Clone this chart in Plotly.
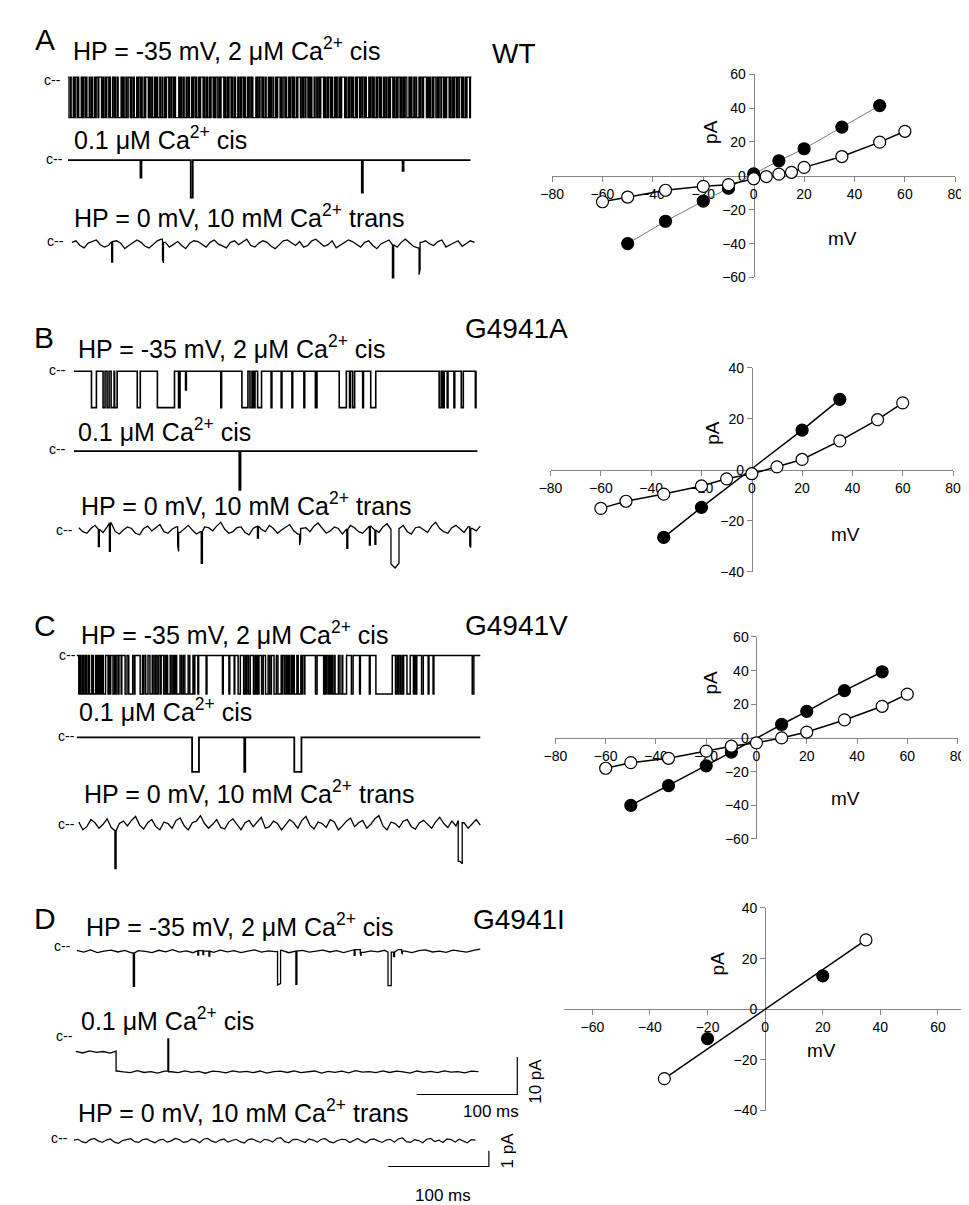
import plotly.graph_objects as go

W, H = 969, 1205
FONT = "Arial, Liberation Sans, sans-serif"

# ---------------- I-V data (mV, pA) ----------------
wt_filled_mv = [-50, -35, -20, -10, 0, 10, 20, 35, 50]
wt_filled_pa = [-40.0, -26.8, -14.9, -7.3, 1.2, 8.9, 16.0, 28.8, 41.5]
wt_open_mv = [-60, -50, -35, -20, -10, 0, 5, 10, 15, 20, 35, 50, 60]
wt_open_pa = [-15.3, -12.5, -8.5, -6.2, -5.2, -1.7, -0.4, 1.0, 2.1, 5.0, 11.4, 19.9, 26.3]

ga_filled_mv = [-35, -20, 20, 35]
ga_filled_pa = [-26.5, -14.7, 15.6, 27.7]
ga_open_mv = [-60, -50, -35, -20, -10, 0, 10, 20, 35, 50, 60]
ga_open_pa = [-15.1, -12.3, -9.5, -6.3, -3.5, -1.5, 1.2, 4.1, 11.4, 19.7, 26.3]

gv_filled_mv = [-50, -35, -20, -10, 10, 20, 35, 50]
gv_filled_pa = [-40.1, -28.3, -16.6, -8.4, 8.0, 15.8, 28.1, 39.3]
gv_open_mv = [-60, -50, -35, -20, -10, 0, 10, 20, 35, 50, 60]
gv_open_pa = [-18.0, -14.7, -12.1, -7.8, -4.9, -2.9, 0.0, 3.5, 10.7, 18.8, 26.0]

gi_filled_mv = [-20, 20]
gi_filled_pa = [-11.6, 13.2]
gi_open_mv = [-35, 35]
gi_open_pa = [-27.4, 27.4]
gi_fit_mv = [-35, 35]
gi_fit_pa = [-27.4, 27.4]

ticks_80 = [-80, -60, -40, -20, 0, 20, 40, 60, 80]
ticks_60 = [-60, -40, -20, 0, 20, 40, 60]
ticks_40 = [-40, -20, 0, 20, 40]

# ---------------- single-channel records (ms, pA) ----------------
T_MS = 400
A1_amp = -10.8
# alternating dwell times (ms): closed, open, closed, open ...
A1_dwell = [
    1.0, 1.5, 0.7, 2.0, 1.2, 0.8, 1.8, 1.1, 0.6, 2.4, 1.3, 0.9, 1.6, 0.7, 1.2, 2.2, 0.8, 1.4, 1.0, 1.9,
    0.6, 1.3, 1.7, 0.9, 2.6, 1.1, 0.8, 1.5, 1.2, 0.7, 1.9, 1.0, 0.6, 2.1, 1.4, 0.9, 1.1, 1.6, 0.7, 2.8,
    1.3, 0.8, 1.0, 1.7, 0.9, 1.4, 2.0, 0.6, 1.2, 1.5, 0.8, 2.3, 1.0, 0.7, 1.6, 1.3, 0.9, 1.8, 0.6, 1.1,
    2.5, 1.2, 0.8, 1.4, 1.0, 1.9, 0.7, 1.3, 1.1, 2.0, 0.9, 1.5, 0.6, 1.7, 1.2, 0.8, 2.2, 1.0, 1.4, 0.7,
    1.6, 1.1, 0.9, 3.2, 1.3, 0.8, 1.2, 1.5, 0.6, 1.9, 1.0, 1.4, 0.8, 2.1, 1.2, 0.7, 1.6, 1.0, 0.9, 1.8,
    1.3, 0.6, 2.4, 1.1, 0.8, 1.5, 1.2, 1.7, 0.7, 1.0, 2.0, 0.9, 1.3, 0.6, 1.8, 1.4, 0.8, 1.1, 2.6, 1.0,
    0.7, 1.5, 1.2, 0.9, 1.9, 1.3, 0.6, 1.6, 1.0, 2.2, 0.8, 1.4, 1.1, 0.7, 1.7, 1.2, 0.9, 2.0, 1.0, 0.6,
    1.5, 1.3, 0.8, 2.9, 1.1, 0.7, 1.4, 1.0, 1.8, 0.9, 1.2, 1.6, 0.6, 2.1, 1.3, 0.8, 1.0, 1.5, 0.7, 1.9,
    1.2, 0.9, 2.3, 1.1, 0.6, 1.4, 1.7, 0.8, 1.0, 2.0, 1.3, 0.7, 1.6, 1.2, 0.9, 1.8, 1.0, 0.6, 2.5, 1.4,
    0.8, 1.1, 1.5, 0.7, 1.9, 1.2, 0.9, 1.3, 0.6, 2.2, 1.0, 1.6, 0.8, 1.4, 1.1, 0.7, 2.7, 1.2, 0.9, 1.5,
    1.0, 0.6, 1.8, 1.3, 0.8, 2.0, 1.1, 0.7, 1.4, 1.6, 0.9, 1.2, 3.0, 1.0, 0.6, 1.7, 1.3, 0.8, 1.5, 1.1,
    0.7, 1.9, 1.2, 0.9, 2.1, 1.0, 1.4, 0.6, 1.6, 1.3, 0.8, 2.4, 1.1, 0.7, 1.5, 1.2, 0.9, 1.8, 1.0, 0.6,
    1.7, 1.3, 0.8, 2.0, 1.1, 1.4, 0.7, 1.6, 0.9, 1.2, 2.3, 1.0, 0.6, 1.5, 1.3, 0.8, 1.9, 1.1, 0.7, 1.4,
    1.2, 0.8, 1.6, 2.1, 0.7, 1.3, 1.0, 1.8, 0.9, 1.4, 0.6, 2.2, 1.1, 0.8, 1.5, 1.2, 2.8, 0.7, 1.3, 1.0,
    0.9, 1.7, 1.2, 0.6, 2.0, 1.4, 0.8, 1.1, 1.6, 0.7, 1.9, 1.0, 1.3, 0.9, 2.4, 1.1, 0.6, 1.5, 1.2, 0.8,
    1.8, 1.0, 0.7, 1.4, 2.1, 0.9, 1.2, 1.6, 0.6, 1.3, 2.6, 0.8, 1.1, 1.5, 0.7, 1.9, 1.2, 0.9, 1.4, 1.0]
A2_events = [(72, 73, -4.7), (122, 124, -10.0), (292, 293, -8.7), (332.5, 333.5, -2.9)]
A3_events = [(39.5, 40.5, -1.3), (90, 91, -1.3), (318.5, 319.8, -2.1), (345, 346, -1.7)]
A3_noise = [
    0.1, 0.2, -0.1, -0.25, 0.05, 0.15, 0.25, -0.05, -0.2, -0.1, 0.15, 0.2, 0.05, -0.3, -0.1, 0.1, 0.25, 0.1, -0.15, -0.25,
    0.0, 0.2, 0.3, 0.1, -0.2, -0.05, 0.15, -0.1, -0.3, 0.05, 0.2, 0.15, -0.05, -0.2, 0.1, 0.25, 0.0, -0.15, -0.25, 0.1,
    0.2, -0.05, 0.15, 0.3, -0.1, -0.2, 0.05, 0.2, 0.1, -0.15, -0.3, -0.05, 0.2, 0.25, 0.05, -0.1, 0.15, -0.2, -0.1, 0.2,
    0.3, 0.1, -0.15, -0.05, 0.2, -0.25, -0.1, 0.1, 0.25, 0.15, -0.05, -0.2, 0.1, 0.2, -0.1, -0.3, 0.0, 0.15, 0.25, -0.05,
    -0.2, 0.1, 0.3, 0.05, -0.15, -0.25, 0.1, 0.2, 0.0, -0.1, 0.15, 0.25, -0.2, -0.05, 0.1, 0.2, -0.15, 0.05, 0.2, 0.1]

B1_amp = -9.7
B1_open = [(17.5, 22.4), (29, 31), (33, 35), (37, 40), (40.5, 43), (63, 66), (83, 100), (104, 105.5),
           (111, 111.8, -5.0), (146, 146.8), (167, 173), (175, 177), (178.5, 180), (182.6, 186.5), (196, 196.8),
           (206, 206.8), (216.7, 217.5), (228.6, 229.4), (240, 241.6), (263.7, 270.8), (274, 274.8), (277, 279),
           (287, 287.8), (295, 300), (363, 365), (366.5, 368), (371, 371.8), (377.7, 378.5), (385, 387),
           (399, 399.6)]
B2_events = [(164, 165.2, -10.3)]
B3_events = [(19.5, 20.5, -1.1), (30.5, 31.5, -1.8), (98.5, 99.5, -1.2), (122, 123.2, -2.0), (178, 179, -0.75),
             (220, 221, -0.7), (267, 268, -1.2), (289.5, 290.5, -1.2), (295, 296, -0.9), (311, 319, -2.2),
             (389.5, 390.5, -1.2)]
B3_noise = [
    0.15, -0.1, -0.2, 0.1, 0.3, 0.05, -0.15, 0.2, 0.45, -0.1, -0.25, 0.0, 0.2, 0.1, -0.2, -0.3, 0.1, 0.25, -0.05, 0.15,
    0.35, -0.1, -0.2, 0.05, 0.2, -0.15, 0.1, 0.3, 0.0, -0.25, -0.1, 0.2, 0.15, -0.05, 0.25, 0.5, 0.05, -0.2, -0.1, 0.15,
    0.2, -0.15, -0.3, 0.1, 0.25, 0.05, -0.1, 0.3, 0.1, -0.2, 0.0, 0.2, 0.35, -0.05, -0.25, 0.1, 0.15, -0.1, 0.25, 0.45,
    0.1, -0.2, -0.05, 0.2, 0.1, -0.25, 0.05, 0.3, 0.15, -0.1, -0.2, 0.1, 0.25, 0.0, -0.15, 0.2, 0.4, 0.05, -0.2, 0.1,
    0.3, -0.1, -0.25, 0.15, 0.2, 0.0, -0.15, 0.25, 0.5, 0.1, -0.1, -0.2, 0.15, 0.3, 0.05, -0.15, 0.2, 0.1, -0.05, 0.25]

C1_amp = -10.3
C1_open = [(2, 3), (3.6, 5.2), (5.8, 6.3), (6.8, 8.4), (9, 9.5), (10, 11.7), (12.6, 14.9), (15.4, 15.9),
           (16.5, 18.8), (20, 21.4), (22, 22.5), (24, 25), (26.2, 28.5), (31, 31.8), (33, 33.6), (35.9, 37.5),
           (38.5, 39), (40.8, 41.8), (44, 44.6), (47.9, 49.8), (51.5, 55.4), (57, 57.6), (62.8, 65.1),
           (66, 66.6), (68.3, 70.6), (72.5, 74.8), (76.4, 78), (79.6, 81.2), (83, 83.6), (86.1, 87.7),
           (88.5, 89.2), (90, 92.6), (94.2, 95.8), (97, 97.6), (99, 102.3), (103.9, 105.5), (107.1, 110.4),
           (112, 115.2), (116.5, 117), (120, 120.8), (128.2, 129), (144.4, 145.2), (150.8, 151.6), (156, 156.6),
           (159.9, 162.1), (165.4, 167), (168, 168.6), (170.2, 171.9), (175.1, 176.7), (178, 178.6),
           (180, 180.6), (183.2, 184.8), (187.1, 189.7), (191.3, 192.9), (195.5, 197.8), (199.4, 202.6),
           (203.5, 204.1), (205.9, 207.5), (209, 209.6), (210.7, 212.4), (213.5, 214.1), (215.6, 218.2),
           (219.5, 222.1), (223, 223.5), (225.3, 226.1), (236.6, 238.2), (244.7, 246), (246.6, 248),
           (249.6, 251), (251.6, 252.8), (253.8, 255.5), (256, 259.3), (260.9, 263), (263.6, 267.4),
           (272.2, 273.9), (280.3, 281.1), (290, 290.8), (296.5, 312.7), (315.9, 317.5), (318, 319.2),
           (320.8, 322.4), (323, 324), (327.3, 330.5), (333.7, 335.2), (335.8, 337), (341.8, 343.5),
           (348.3, 349.1), (353.2, 354), (392, 393.6)]
C2_events = [(114.3, 121.1, -9.2), (166, 167, -9.2), (215.6, 222.7, -9.2)]
C3_events = [(36, 37.2, -2.4), (378, 382, -2.6)]
C3_noise = [
    0.2, -0.3, -0.1, 0.35, 0.15, -0.2, 0.05, 0.4, -0.15, -0.35, 0.1, 0.25, -0.05, 0.3, 0.55, 0.0, -0.25, 0.15, 0.35, -0.1,
    -0.3, 0.2, 0.1, -0.2, 0.3, 0.45, -0.05, -0.3, 0.15, 0.25, 0.6, 0.1, -0.2, 0.05, 0.35, -0.15, -0.25, 0.2, 0.4, 0.05,
    -0.3, 0.15, 0.3, -0.1, 0.2, 0.5, -0.2, -0.1, 0.25, 0.1, -0.3, 0.05, 0.35, 0.15, -0.2, 0.3, 0.55, 0.0, -0.25, 0.2,
    0.1, -0.15, 0.35, 0.2, -0.3, -0.05, 0.25, 0.45, -0.1, 0.15, 0.3, -0.2, 0.05, 0.4, 0.6, -0.05, -0.3, 0.2, 0.1, -0.15,
    0.25, 0.35, -0.1, -0.25, 0.15, 0.3, 0.05, -0.2, 0.2, 0.5, 0.1, -0.15, 0.25, -0.05, 0.3, 0.15, -0.2, 0.1, 0.35, 0.0]

D1_events = [(56, 57.2, -8.9), (120, 120.8, -1.2), (125, 125.8, -1.0), (131, 131.8, -1.3), (199, 202, -8.9),
             (217.2, 218.2, -8.9), (275, 275.8, -1.5), (281, 281.8, -1.0), (308.5, 311.7, -8.9),
             (314, 315, -1.2), (322, 322.8, -0.8)]
D1_noise = [0.3, -0.2, 0.4, -0.3, 0.1, 0.35, -0.15, 0.25, -0.4, 0.2, 0.0, -0.3, 0.3, -0.1, 0.45, -0.2,
            0.15, -0.35, 0.2, 0.05, -0.25, 0.35, -0.1, 0.2, -0.3, 0.1, 0.4, -0.2, 0.15, -0.05, 0.3, -0.35,
            0.1, 0.25, -0.2, 0.05, 0.35, -0.15, 0.2, -0.3, 0.1, 0.45, -0.25, 0.15, -0.1, 0.3, -0.2, 0.5,
            0.05, -0.3, 0.2, 0.4, -0.15, 0.1, -0.25, 0.35, 0.05, -0.2, 0.3, 0.6]
D2_events = [(40, 401, -5.3), (91.5, 92.3, 3.4)]
D2_noise = [0.2, -0.25, 0.3, -0.1, 0.15, -0.3, 0.25, 0.0, -0.2, 0.35, -0.15, 0.1, -0.3, 0.2, 0.05, -0.2,
            0.3, -0.1, 0.15, -0.35, 0.2, 0.1, -0.25, 0.3, -0.05, 0.15, -0.2, 0.25, -0.3, 0.1, 0.2, -0.15,
            0.3, -0.2, 0.05, 0.25, -0.3, 0.15, -0.1, 0.2, -0.25, 0.35, -0.05, 0.1, -0.2, 0.3, -0.15, 0.2,
            0.0, -0.3, 0.25, -0.1, 0.15, -0.2, 0.3, -0.05, 0.1, -0.25, 0.2, 0.1]
D3_noise = [
    0.05, 0.1, -0.05, -0.12, 0.08, 0.15, 0.0, -0.1, 0.05, 0.12, -0.08, -0.15, 0.02, 0.1, 0.14, -0.05, -0.1, 0.08, 0.12, -0.02,
    -0.12, 0.05, 0.1, -0.08, 0.0, 0.15, 0.08, -0.1, -0.05, 0.12, 0.05, -0.12, 0.1, 0.15, -0.02, -0.1, 0.05, 0.12, -0.08, 0.02,
    0.1, -0.05, -0.14, 0.08, 0.12, 0.0, -0.1, 0.1, 0.05, -0.08, 0.15, 0.2, -0.05, -0.12, 0.08, 0.1, -0.02, -0.1, 0.12, 0.05,
    -0.08, 0.1, 0.14, -0.05, -0.12, 0.02, 0.1, 0.08, -0.1, 0.05, 0.15, -0.02, -0.12, 0.08, 0.12, 0.0, -0.1, 0.05, 0.1, -0.08,
    0.12, 0.18, -0.05, -0.1, 0.08, 0.02, -0.12, 0.1, 0.15, -0.05, 0.05, -0.1, 0.12, 0.08, -0.08, 0.1, 0.0, -0.12, 0.08, 0.05]

SCALE_MS = 100
SCALE_PA_HIGH = 10
SCALE_PA_LOW = 1

# ---------------- helpers ----------------
fig = go.Figure()
axes_layout = {}
counter = [0]


def new_axes(xpx, ypx, xr, yr):
    counter[0] += 1
    i = counter[0]
    sfx = "" if i == 1 else str(i)
    axes_layout["xaxis" + sfx] = dict(domain=[xpx[0] / W, xpx[1] / W], range=list(xr), anchor="y" + sfx,
                                      visible=False, fixedrange=True)
    axes_layout["yaxis" + sfx] = dict(domain=[1 - ypx[1] / H, 1 - ypx[0] / H], range=list(yr), anchor="x" + sfx,
                                      visible=False, fixedrange=True)
    return "x" + sfx, "y" + sfx, sfx


def dwell_events(dwells, T=T_MS):
    evs, t = [], 0.0
    for k, d in enumerate(dwells):
        if k % 2 == 1:
            evs.append((t, min(t + d, T + 1)))
        t += d
        if t >= T:
            break
    return evs


def step_path(events, amp=0.0, noise=None, T=T_MS):
    evs = [(e[0], e[1], e[2] if len(e) > 2 else amp) for e in events]

    def level(t):
        v = 0.0
        for s, e, lv in evs:
            if s <= t < e:
                v = lv
        return v

    if noise:
        n = len(noise)
        samples = [T * k / (n - 1) for k in range(n)]

        def nz(t):
            k = int(round(t / T * (n - 1)))
            return noise[max(0, min(n - 1, k))]
    else:
        samples = [0.0, T]

        def nz(t):
            return 0.0

    pts = []
    for t in samples:
        pts.append((t, 1, level(t) + nz(t)))
    for s, e, lv in evs:
        for b in (s, e):
            if 0 < b < T:
                pts.append((b, 0, level(b - 1e-6) + nz(b)))
                pts.append((b, 2, level(b) + nz(b)))
    pts.sort(key=lambda p: (p[0], p[1]))
    return [p[0] for p in pts], [p[2] for p in pts]


def add_record(x0, x1, y0, s, events, amp=0.0, noise=None, width=1.4):
    pad = 6
    spx = (x1 - x0) / T_MS
    up, down = 30, 62
    xa, ya, _ = new_axes((x0 - pad, x1 + pad), (y0 - up, y0 + down),
                         (-pad / spx, T_MS + pad / spx), (-down / s, up / s))
    t, v = step_path(events, amp, noise)
    fig.add_trace(go.Scatter(x=t, y=v, xaxis=xa, yaxis=ya, mode="lines",
                             line=dict(color="black", width=width), hoverinfo="skip", showlegend=False))


def add_scalebar(xl, yb, spx, s, ms, pa):
    pad = 4
    xa, ya, _ = new_axes((xl - pad, xl + ms * spx + pad), (yb - pa * s - pad, yb + pad),
                         (-pad / spx, ms + pad / spx), (-pad / s, pa + pad / s))
    fig.add_trace(go.Scatter(x=[0, ms, ms], y=[0, 0, pa], xaxis=xa, yaxis=ya, mode="lines",
                             line=dict(color="black", width=1.2), hoverinfo="skip", showlegend=False))


def add_iv(xpx, ypx, xr, yr, xt, yt, series):
    xa, ya, sfx = new_axes(xpx, ypx, xr, yr)
    x0 = xpx[0] + (0 - xr[0]) / (xr[1] - xr[0]) * (xpx[1] - xpx[0])
    y0 = ypx[1] - (0 - yr[0]) / (yr[1] - yr[0]) * (ypx[1] - ypx[0])
    common = dict(visible=True, showline=True, linecolor="#858585", linewidth=1, ticks="outside",
                  ticklen=5, tickcolor="#858585", showgrid=False, zeroline=False, anchor="free",
                  layer="below traces", tickfont=dict(family=FONT, size=14, color="black"))
    axes_layout["xaxis" + sfx].update(common, position=1 - y0 / H, tickvals=xt)
    axes_layout["yaxis" + sfx].update(common, position=x0 / W, tickvals=yt)
    for xs, ys, filled, lcol, lw, mode in series:
        fig.add_trace(go.Scatter(
            x=xs, y=ys, xaxis=xa, yaxis=ya, mode=mode, hoverinfo="skip", showlegend=False,
            line=dict(color=lcol, width=lw),
            marker=dict(size=12, symbol="circle", color="black" if filled else "white",
                        line=dict(color="black", width=1.2))))


# ---------------- records ----------------
S_HI, S_LO = 3.8, 16.0
add_record(49, 461, 62, S_HI, dwell_events(A1_dwell), A1_amp, width=1.3)
add_record(49, 460, 146, S_HI, A2_events, width=1.8)
add_record(53, 464, 231, S_LO, A3_events, noise=A3_noise, width=1.3)
add_record(55, 466, 360, S_HI, B1_open, B1_amp, width=1.6)
add_record(55, 467, 441, S_HI, B2_events, width=1.8)
add_record(60, 470, 521, S_LO, B3_events, noise=B3_noise, width=1.3)
add_record(58, 470, 648, S_HI, C1_open, C1_amp, width=1.5)
add_record(58, 470, 731, S_HI, C2_events, width=1.8)
add_record(60, 470, 820, S_LO, C3_events, noise=C3_noise, width=1.3)
add_record(58, 470, 948, S_HI, D1_events, noise=D1_noise, width=1.3)
add_record(57, 468, 1050, S_HI, D2_events, noise=D2_noise, width=1.3)
add_record(55, 465, 1140, S_LO, [], noise=D3_noise, width=1.2)

SPX = 411 / T_MS
add_scalebar(405, 1093, SPX, S_HI, SCALE_MS, SCALE_PA_HIGH)
add_scalebar(376, 1166, SPX, S_LO, SCALE_MS, SCALE_PA_LOW)

# ---------------- I-V plots ----------------
add_iv((543.3, 955), (59, 265), (-80, 80), (-60, 60), ticks_80, ticks_60, [
    (wt_filled_mv, wt_filled_pa, True, "#7a7a7a", 1.0, "lines+markers"),
    (wt_open_mv, wt_open_pa, False, "black", 1.5, "lines+markers")])
add_iv((541.7, 952.7), (356.7, 563.3), (-80, 80), (-40, 40), ticks_80, ticks_40, [
    (ga_filled_mv, ga_filled_pa, True, "black", 1.5, "lines+markers"),
    (ga_open_mv, ga_open_pa, False, "black", 1.5, "lines+markers")])
add_iv((546.7, 957.3), (629.3, 834), (-80, 80), (-60, 60), ticks_80, ticks_60, [
    (gv_filled_mv, gv_filled_pa, True, "black", 1.5, "lines+markers"),
    (gv_open_mv, gv_open_pa, False, "black", 1.5, "lines+markers")])
add_iv((555, 966.7), (904, 1109.3), (-70, 70), (-40, 40), ticks_60, ticks_40, [
    (gi_fit_mv, gi_fit_pa, True, "black", 1.5, "lines"),
    (gi_filled_mv, gi_filled_pa, True, "black", 1.5, "markers"),
    (gi_open_mv, gi_open_pa, False, "black", 1.5, "markers")])

# ---------------- text ----------------
HP_NEG = "HP = -35 mV, 2 \u03bcM Ca<sup>2+</sup> cis"
LOW_CA = "0.1 \u03bcM Ca<sup>2+</sup> cis"
HP_ZERO = "HP = 0 mV, 10 mM Ca<sup>2+</sup> trans"
annotations = []


def label(text, x, y, size, xanchor="left", angle=0):
    annotations.append(dict(text=text, x=x / W, y=1 - y / H, xref="paper", yref="paper", xanchor=xanchor,
                            yanchor="middle", showarrow=False, textangle=angle,
                            font=dict(family=FONT, size=size, color="black")))


panel_letters = [("A", 13, 24), ("B", 12, 326), ("C", 12, 618), ("D", 12, 915)]
for txt, x, y in panel_letters:
    label(txt, x, y, 30)
mutants = [("WT", 480, 38), ("G4941A", 452, 317), ("G4941V", 452, 618), ("G4941I", 460, 916)]
for txt, x, y in mutants:
    label(txt, x, y, 28)
cond_labels = [(HP_NEG, 52, 33), (LOW_CA, 53, 124), (HP_ZERO, 53, 203),
               (HP_NEG, 57, 335), (LOW_CA, 57, 420), (HP_ZERO, 60, 495),
               (HP_NEG, 60, 625), (LOW_CA, 58, 703), (HP_ZERO, 63, 786),
               (HP_NEG, 65, 921), (LOW_CA, 60, 1016), (HP_ZERO, 57, 1110)]
for txt, x, y in cond_labels:
    label(txt, x, y, 25)
closed_marks = [(22, 65), (25, 145), (26, 228), (28, 359), (28, 439), (35, 521),
                (38, 648), (37, 730), (37, 819), (33, 943), (35, 1034), (30, 1137)]
for x, y in closed_marks:
    label("c--", x, y, 14)
iv_titles = [(705, 117, 840, 225), (707, 422, 843, 525), (705, 675, 843, 793), (712, 960, 818, 1048)]
for px, py, mx, my in iv_titles:
    label("pA", px, py, 19, xanchor="center", angle=-90)
    label("mV", mx, my, 19, xanchor="center")
label("100 ms", 481, 1110, 17, xanchor="center")
label("10 pA", 527, 1080, 17, xanchor="center", angle=-90)
label("100 ms", 432, 1195, 17, xanchor="center")
label("1 pA", 498, 1150, 17, xanchor="center", angle=-90)

fig.update_layout(width=W, height=H, margin=dict(l=0, r=0, t=0, b=0), paper_bgcolor="white",
                  plot_bgcolor="rgba(0,0,0,0)", showlegend=False, annotations=annotations, **axes_layout)
fig.write_html("out.html")
